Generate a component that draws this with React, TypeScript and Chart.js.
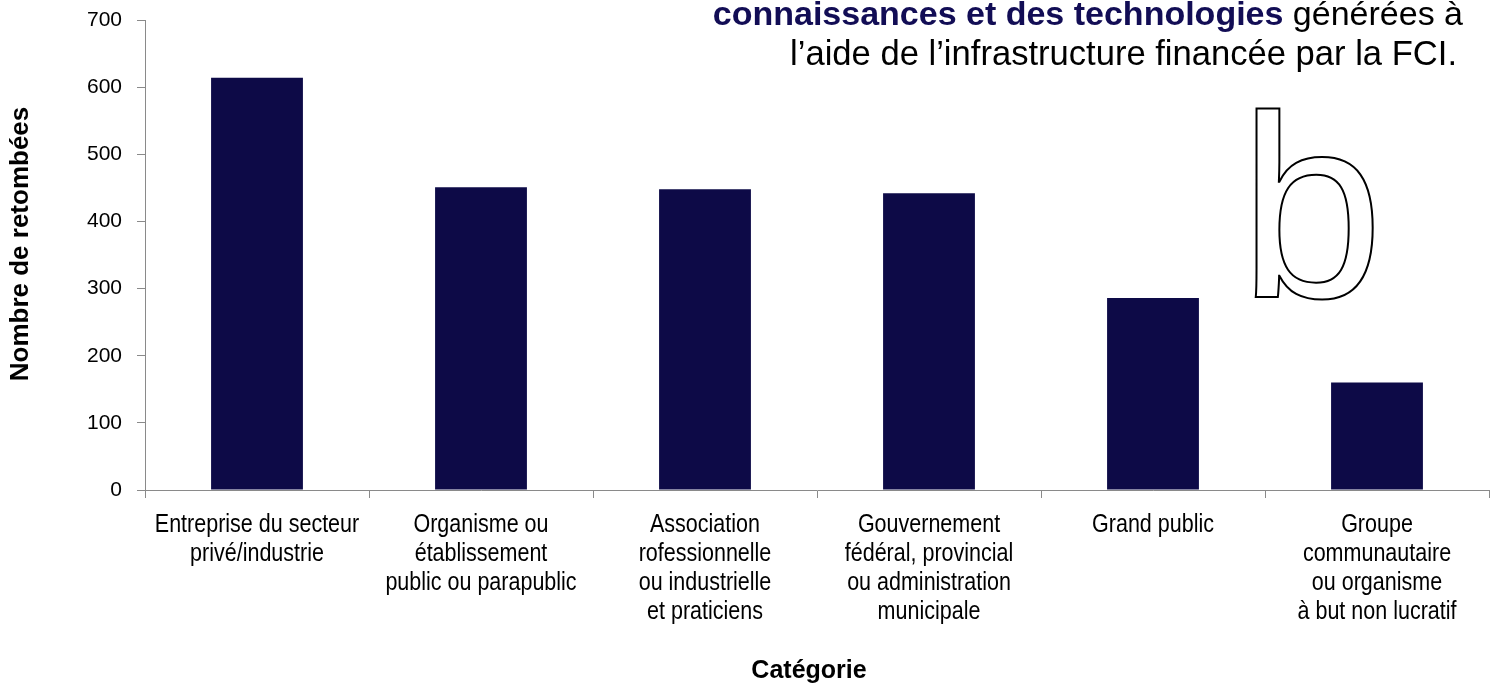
import React, { useEffect, useRef } from "react";
import { Chart, registerables } from "chart.js";

Chart.register(...registerables);

const categories: string[][] = [
  ["Entreprise du secteur", "privé/industrie"],
  ["Organisme ou", "établissement", "public ou parapublic"],
  ["Association", "rofessionnelle", "ou industrielle", "et praticiens"],
  ["Gouvernement", "fédéral, provincial", "ou administration", "municipale"],
  ["Grand public"],
  ["Groupe", "communautaire", "ou organisme", "à but non lucratif"],
];
const values: number[] = [614, 451, 448, 442, 286, 160];
const yTicks: number[] = [0, 100, 200, 300, 400, 500, 600, 700];

const yTitle = "Nombre de retombées";
const xTitle = "Catégorie";
const noteLine1Bold = "connaissances et des technologies";
const noteLine1Rest = " générées à";
const noteLine2 = "l’aide de l’infrastructure financée par la FCI.";
const bigLetter = "b";

const BAR = "#0d0a47";
const NAVY = "#120d55";
const AXIS = "#8a8a8a";
const SANS = "'Liberation Sans', Arial, sans-serif";

const overlay = {
  id: "overlay",
  afterDraw(chart: any) {
    const ctx = chart.ctx as CanvasRenderingContext2D;
    const xs = chart.scales.x;

    // Category labels (condensed)
    ctx.save();
    ctx.fillStyle = "#000";
    ctx.font = `25px ${SANS}`;
    ctx.textAlign = "center";
    ctx.textBaseline = "alphabetic";
    categories.forEach((lines, i) => {
      const cx = xs.getPixelForValue(i);
      lines.forEach((line, j) => {
        ctx.save();
        ctx.translate(cx, 532 + j * 29);
        ctx.scale(0.86, 1);
        ctx.fillText(line, 0, 0);
        ctx.restore();
      });
    });
    ctx.restore();

    ctx.save();
    // Y title
    ctx.fillStyle = "#000";
    ctx.font = `bold 26px ${SANS}`;
    ctx.textAlign = "center";
    ctx.textBaseline = "middle";
    ctx.translate(21, 244);
    ctx.rotate(-Math.PI / 2);
    ctx.fillText(yTitle, 0, 0);
    ctx.restore();

    ctx.save();
    // X title
    ctx.fillStyle = "#000";
    ctx.font = `bold 25px ${SANS}`;
    ctx.textAlign = "center";
    ctx.textBaseline = "alphabetic";
    ctx.fillText(xTitle, 809, 678);

    // Top-right note
    ctx.textAlign = "right";
    ctx.font = `34px ${SANS}`;
    const restW = ctx.measureText(noteLine1Rest).width;
    ctx.fillStyle = "#000";
    ctx.fillText(noteLine1Rest, 1463, 25);
    ctx.font = `bold 34px ${SANS}`;
    ctx.fillStyle = NAVY;
    ctx.fillText(noteLine1Bold, 1463 - restW, 25);
    ctx.font = `34.6px ${SANS}`;
    ctx.fillStyle = "#000";
    ctx.fillText(noteLine2, 1457, 65);

    // Big outlined letter
    ctx.textAlign = "left";
    ctx.font = `260px ${SANS}`;
    ctx.fillStyle = "#fff";
    ctx.fillText(bigLetter, 1239, 297);
    ctx.lineWidth = 2;
    ctx.strokeStyle = "#000";
    ctx.strokeText(bigLetter, 1239, 297);
    ctx.restore();
  },
};

export default function App() {
  const ref = useRef<HTMLCanvasElement | null>(null);
  useEffect(() => {
    if (!ref.current) return;
    const chart = new Chart(ref.current, {
      type: "bar",
      data: {
        labels: categories.map((c) => c.join(" ")),
        datasets: [
          {
            data: values,
            backgroundColor: BAR,
            borderWidth: 0,
            categoryPercentage: 1,
            barPercentage: 0.41,
          },
        ],
      },
      options: {
        responsive: false,
        animation: false,
        events: [],
        layout: { padding: { top: 20, right: 10, left: 0, bottom: 0 } },
        plugins: {
          legend: { display: false },
          tooltip: { enabled: false },
          title: { display: false },
        },
        scales: {
          x: {
            offset: true,
            grid: {
              offset: true,
              drawOnChartArea: false,
              drawTicks: true,
              tickLength: 8,
              color: AXIS,
            },
            border: { display: true, color: AXIS, width: 1 },
            ticks: { display: false },
            afterFit: (s: any) => {
              s.height = 196;
              s.paddingLeft = 0;
              s.paddingRight = 0;
            },
          },
          y: {
            min: 0,
            max: 700,
            afterBuildTicks: (s: any) => {
              s.ticks = yTicks.map((v) => ({ value: v }));
            },
            grid: {
              drawOnChartArea: false,
              drawTicks: true,
              tickLength: 8,
              color: AXIS,
            },
            border: { display: true, color: AXIS, width: 1 },
            ticks: {
              color: "#000",
              font: { family: SANS, size: 21 },
              padding: 15,
            },
            afterFit: (s: any) => {
              s.width = 145;
              s.paddingTop = 0;
              s.paddingBottom = 0;
            },
          },
        },
      },
      plugins: [overlay],
    });
    return () => chart.destroy();
  }, []);
  return (
    <div
      style={{
        position: "fixed",
        left: 0,
        top: 0,
        width: 1499,
        height: 686,
        background: "#fff",
      }}
    >
      <canvas ref={ref} width={1499} height={686} style={{ display: "block" }} />
    </div>
  );
}
